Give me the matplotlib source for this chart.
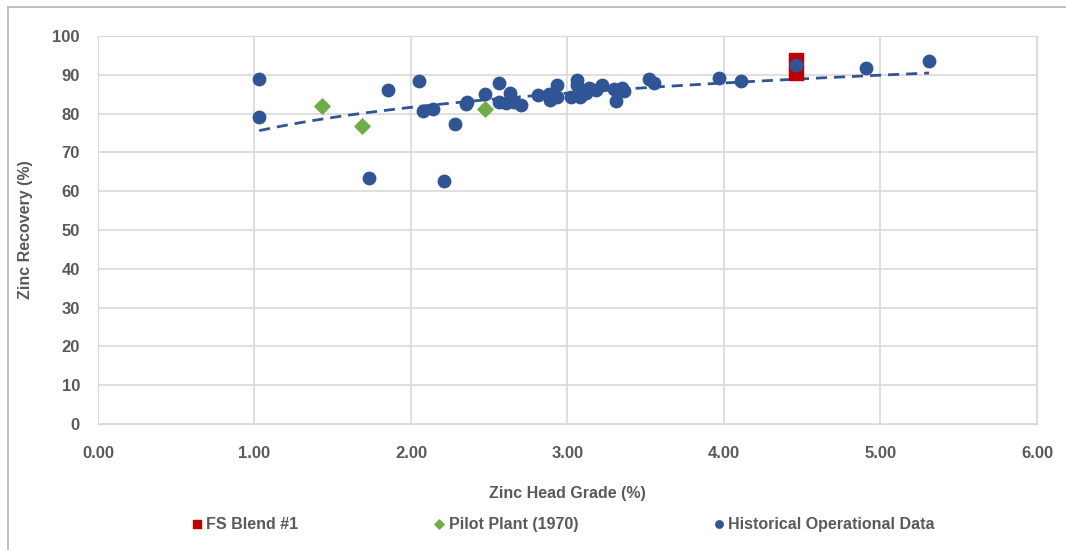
import numpy as np
import matplotlib
matplotlib.use("Agg")
import matplotlib.pyplot as plt
from matplotlib.patches import Rectangle

plt.rcParams['font.family'] = ['Liberation Sans Narrow', 'Liberation Sans', 'DejaVu Sans']

# data
hist_x = [1.03, 1.03, 1.73, 1.85, 2.05, 2.08, 2.14, 2.21, 2.28, 2.35, 2.36, 2.47,
          2.56, 2.56, 2.61, 2.63, 2.66, 2.70, 2.81, 2.88, 2.89, 2.93, 2.93, 3.02,
          3.06, 3.06, 3.08, 3.12, 3.14, 3.18, 3.22, 3.30, 3.31, 3.35, 3.36, 3.52,
          3.55, 3.97, 4.11, 4.46, 4.91, 5.31]
hist_y = [88.8, 79.1, 63.3, 86.0, 88.5, 80.6, 81.1, 62.6, 77.3, 82.4, 83.0, 85.0,
          87.8, 82.9, 82.7, 85.3, 83.1, 82.2, 84.9, 85.0, 83.6, 87.5, 84.2, 84.3,
          88.6, 87.4, 84.4, 85.2, 86.6, 86.1, 87.5, 86.3, 83.2, 86.6, 85.8, 88.8,
          87.9, 89.1, 88.5, 92.6, 91.8, 93.6]
pilot_x = [1.43, 1.69, 2.47]
pilot_y = [82.0, 76.8, 81.1]
fs_x = [4.46, 4.46]
fs_y = [93.9, 90.4]

blue = '#2F5597'
green = '#70AD47'
red = '#C00000'
gray = '#595959'

fig = plt.figure(figsize=(10.66, 5.5), dpi=100)
ax = fig.add_axes([0.0919, 0.2291, 0.8809, 0.7054])

# logarithmic trendline on historical data
b, a = np.polyfit(np.log(hist_x), hist_y, 1)
tx = np.linspace(min(hist_x), max(hist_x), 200)
ax.plot(tx, a + b * np.log(tx), color=blue, lw=2.0, dashes=(4, 2.5), zorder=2)

ax.scatter(fs_x, fs_y, marker='s', s=95, color=red, zorder=3, label='FS Blend #1')
ax.scatter(pilot_x, pilot_y, marker='D', s=60, color=green, zorder=3, label='Pilot Plant (1970)')
ax.scatter(hist_x, hist_y, marker='o', s=80, color=blue, zorder=4, label='Historical Operational Data')

ax.set_xlim(0, 6)
ax.set_ylim(0, 100)
ax.set_xticks(np.arange(0, 7, 1))
ax.set_xticklabels([f'{v:.2f}' for v in np.arange(0, 7, 1)])
ax.set_yticks(np.arange(0, 101, 10))
ax.grid(True, color='#D9D9D9', lw=1.2)
ax.set_axisbelow(True)
for s in ax.spines.values():
    s.set_color('#D9D9D9')
ax.tick_params(length=0, labelsize=12, labelcolor=gray)
ax.tick_params(axis='x', pad=16)
ax.tick_params(axis='y', pad=13)
for lbl in ax.get_xticklabels() + ax.get_yticklabels():
    lbl.set_fontweight('bold')

ax.set_xlabel('Zinc Head Grade (%)', fontsize=11.5, fontweight='bold', color=gray, labelpad=18)
ax.set_ylabel('Zinc Recovery (%)', fontsize=11.5, fontweight='bold', color=gray, labelpad=14)

leg = fig.legend(loc='center', bbox_to_anchor=(0.527, 0.047), ncol=3, frameon=False,
                 fontsize=11.5, columnspacing=8.3, handletextpad=0.1, handlelength=1,
                 markerscale=0.6)
for t in leg.get_texts():
    t.set_color(gray)
    t.set_fontweight('bold')

fig.patches.append(Rectangle((8 / 1066, -0.05), 1.2, (543 / 550) + 0.05,
                             transform=fig.transFigure, fill=False,
                             edgecolor='#BFBFBF', lw=1.5))

fig.savefig('out.png', dpi=100)
